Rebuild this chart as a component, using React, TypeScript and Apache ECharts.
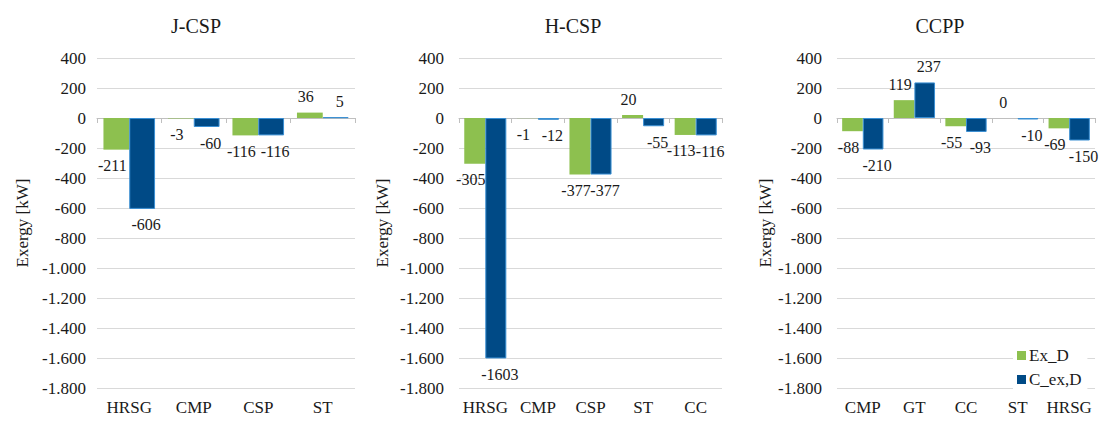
import React, { useEffect, useRef } from "react";
import * as echarts from "echarts";

const titles = ["J-CSP", "H-CSP", "CCPP"];
const seriesNames = ["Ex_D", "C_ex,D"];

const cats1 = ["HRSG", "CMP", "CSP", "ST"];
const exd1 = [-211, -3, -116, 36];
const cex1 = [-606, -60, -116, 5];

const cats2 = ["HRSG", "CMP", "CSP", "ST", "CC"];
const exd2 = [-305, -1, -377, 20, -113];
const cex2 = [-1603, -12, -377, -55, -116];

const cats3 = ["CMP", "GT", "CC", "ST", "HRSG"];
const exd3 = [-88, 119, -55, 0, -69];
const cex3 = [-210, 237, -93, -10, -150];

const yMin = -1800;
const yMax = 400;
const yStep = 200;
const yName = "Exergy [kW]";

const FONT = "Liberation Serif";
const GREEN = "#8DC04F";
const BLUE = "#004A86";
const BLUE_BORDER = "#3A8FD3";
const GRID_COLOR = "#D9D9D9";
const TEXT = "#1a1a1a";

function fmtTick(v: number): string {
  const a = Math.abs(v);
  const s = a >= 1000 ? Math.floor(a / 1000) + "." + String(a % 1000).padStart(3, "0") : String(a);
  return (v < 0 ? "-" : "") + s;
}

const panels = [
  { cats: cats1, exd: exd1, cex: cex1, left: 97, width: 258, titleX: 196, nameGap: 66, labelMargin: 11 },
  { cats: cats2, exd: exd2, cex: cex2, left: 459, width: 263, titleX: 573, nameGap: 68, labelMargin: 15 },
  { cats: cats3, exd: exd3, cex: cex3, left: 837, width: 258, titleX: 940, nameGap: 58, labelMargin: 15 },
];

export default function App() {
  const ref = useRef<HTMLDivElement>(null);
  useEffect(() => {
    if (!ref.current) return;
    const chart = echarts.init(ref.current, undefined, { renderer: "svg" });

    const grid: any[] = [];
    const xAxis: any[] = [];
    const yAxis: any[] = [];
    const series: any[] = [];
    const title: any[] = [];

    panels.forEach((p, i) => {
      title.push({
        text: titles[i],
        left: p.titleX,
        top: 16,
        textAlign: "center",
        padding: 0,
        textStyle: { fontFamily: FONT, fontSize: 20, fontWeight: "normal", color: TEXT },
      });
      grid.push({ left: p.left, top: 58, width: p.width, height: 330, containLabel: false });
      xAxis.push({
        type: "category",
        gridIndex: i,
        data: p.cats,
        position: "bottom",
        axisLine: { show: true, onZero: true, lineStyle: { color: "#BFBFBF", width: 1 } },
        axisTick: { show: true, length: 5, lineStyle: { color: "#BFBFBF" } },
        axisLabel: { show: false },
        splitLine: { show: false },
      });
      xAxis.push({
        type: "category",
        gridIndex: i,
        data: p.cats,
        position: "bottom",
        axisLine: { show: false, onZero: false },
        axisTick: { show: false },
        axisLabel: { show: true, fontFamily: FONT, fontSize: 17, color: TEXT, margin: 11, interval: 0 },
        splitLine: { show: false },
      });
      yAxis.push({
        type: "value",
        gridIndex: i,
        min: yMin,
        max: yMax,
        interval: yStep,
        name: yName,
        nameLocation: "middle",
        nameGap: p.nameGap,
        nameTextStyle: { fontFamily: FONT, fontSize: 17, color: TEXT },
        axisLine: { show: false },
        axisTick: { show: false },
        axisLabel: { fontFamily: FONT, fontSize: 17, color: TEXT, margin: p.labelMargin, formatter: fmtTick },
        splitLine: { show: true, lineStyle: { color: GRID_COLOR, width: 1 } },
      });
      const mk = (vals: number[]) =>
        vals.map((v) => ({ value: v, label: { position: v < 0 ? "bottom" : "top" } }));
      series.push({
        name: seriesNames[0],
        type: "bar",
        xAxisIndex: i * 2,
        yAxisIndex: i,
        data: mk(p.exd),
        barGap: "0%",
        barCategoryGap: "20%",
        itemStyle: { color: GREEN },
        label: { show: true, distance: 8, offset: [-4, 0], fontFamily: FONT, fontSize: 16, color: TEXT },
      });
      series.push({
        name: seriesNames[1],
        type: "bar",
        xAxisIndex: i * 2,
        yAxisIndex: i,
        data: mk(p.cex),
        barGap: "0%",
        barCategoryGap: "20%",
        itemStyle: { color: BLUE, borderColor: BLUE_BORDER, borderWidth: 1 },
        label: { show: true, distance: 8, offset: [4, 0], fontFamily: FONT, fontSize: 16, color: TEXT },
      });
    });

    chart.setOption({
      animation: false,
      textStyle: { fontFamily: FONT },
      title,
      grid,
      xAxis,
      yAxis,
      series,
      legend: {
        data: seriesNames.map((n) => ({ name: n, icon: "rect" })),
        orient: "vertical",
        left: 1013,
        top: 345,
        itemWidth: 9,
        itemHeight: 9,
        itemGap: 7,
        padding: [2, 6, 2, 4],
        backgroundColor: "#ffffff",
        itemStyle: { borderWidth: 0 },
        textStyle: { fontFamily: FONT, fontSize: 17, color: TEXT, padding: [0, 0, 0, -2] },
      },
    });
    return () => chart.dispose();
  }, []);
  return (
    <div
      ref={ref}
      style={{ position: "absolute", left: 0, top: 0, width: 1110, height: 423, background: "#fff" }}
    />
  );
}
